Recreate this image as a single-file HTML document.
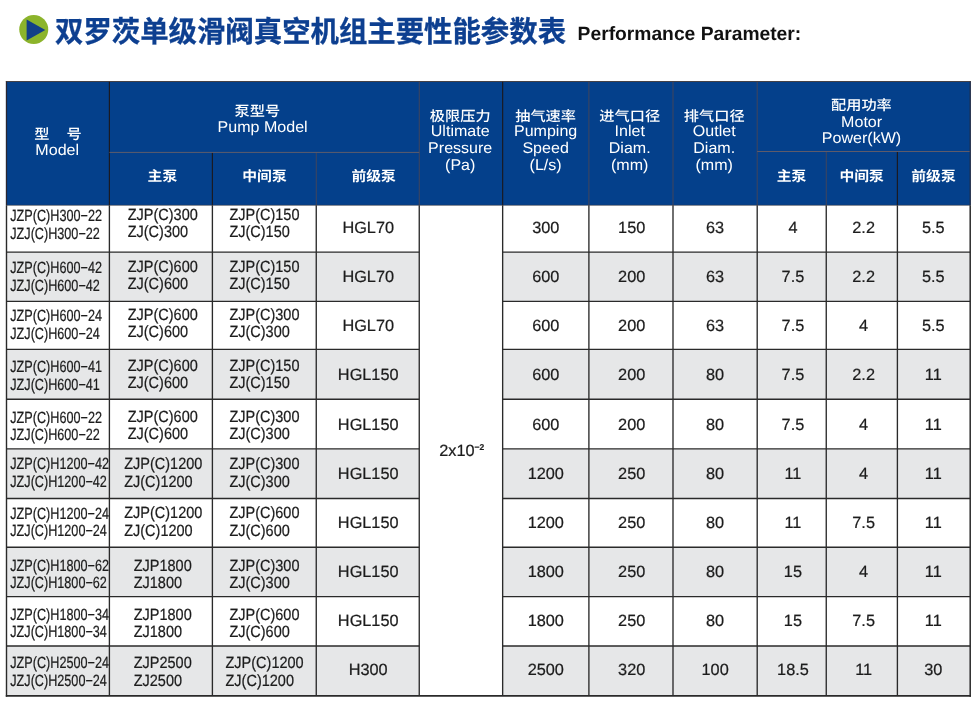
<!DOCTYPE html>
<html lang="zh-CN">
<head>
<meta charset="utf-8">
<title>双罗茨单级滑阀真空机组主要性能参数表</title>
<style>
html,body{margin:0;padding:0;background:#fff;}
body{width:976px;height:701px;overflow:hidden;position:relative;}
svg{position:absolute;left:0;top:0;display:block;}
svg text{font-family:"Liberation Sans", "Noto Sans CJK SC", sans-serif;text-rendering:geometricPrecision;}
</style>
</head>
<body>
<svg width="976" height="701" viewBox="0 0 976 701">
<circle cx="33.75" cy="29.6" r="14.5" fill="#8cb42b"/>
<path d="M26.6 19.6 L45.3 30 L26.6 40.4 Z" fill="#133f88"/>
<text transform="translate(55.00 41.50) scale(1.0 1.04)" font-size="28.4" font-weight="700" fill="#0d3f90" text-anchor="start" stroke="#0d3f90" stroke-width="0.3">双罗茨单级滑阀真空机组主要性能参数表</text>
<text transform="translate(577.60 40.10)" font-size="19.25" font-weight="700" fill="#111" text-anchor="start">Performance Parameter:</text>
<rect x="5.9" y="81.2" width="964.9" height="124.1" fill="#04408b"/>
<rect x="6.5" y="252.1" width="412.75" height="49.30" fill="#e6e7e8"/>
<rect x="502.65" y="252.1" width="467.55" height="49.30" fill="#e6e7e8"/>
<rect x="6.5" y="349.3" width="412.75" height="49.90" fill="#e6e7e8"/>
<rect x="502.65" y="349.3" width="467.55" height="49.90" fill="#e6e7e8"/>
<rect x="6.5" y="448.8" width="412.75" height="49.70" fill="#e6e7e8"/>
<rect x="502.65" y="448.8" width="467.55" height="49.70" fill="#e6e7e8"/>
<rect x="6.5" y="547.2" width="412.75" height="49.40" fill="#e6e7e8"/>
<rect x="502.65" y="547.2" width="467.55" height="49.40" fill="#e6e7e8"/>
<rect x="6.5" y="646" width="412.75" height="49.90" fill="#e6e7e8"/>
<rect x="502.65" y="646" width="467.55" height="49.90" fill="#e6e7e8"/>
<line x1="109.4" y1="81.5" x2="109.4" y2="205.3" stroke="#1a1a22" stroke-width="1.2"/>
<line x1="109.4" y1="205.3" x2="109.4" y2="695.9" stroke="#2a2a2a" stroke-width="1.35"/>
<line x1="212.4" y1="152.4" x2="212.4" y2="205.3" stroke="#1a1a22" stroke-width="1.2"/>
<line x1="212.4" y1="205.3" x2="212.4" y2="695.9" stroke="#2a2a2a" stroke-width="1.35"/>
<line x1="316.25" y1="152.4" x2="316.25" y2="205.3" stroke="#4a4656" stroke-width="0.9"/>
<line x1="316.25" y1="205.3" x2="316.25" y2="695.9" stroke="#2a2a2a" stroke-width="1.35"/>
<line x1="419.25" y1="81.5" x2="419.25" y2="205.3" stroke="#4a4656" stroke-width="0.9"/>
<line x1="419.25" y1="205.3" x2="419.25" y2="695.9" stroke="#2a2a2a" stroke-width="1.35"/>
<line x1="502.65" y1="81.5" x2="502.65" y2="205.3" stroke="#1a1a22" stroke-width="1.2"/>
<line x1="502.65" y1="205.3" x2="502.65" y2="695.9" stroke="#2a2a2a" stroke-width="1.35"/>
<line x1="588.9" y1="81.5" x2="588.9" y2="205.3" stroke="#4a4656" stroke-width="0.9"/>
<line x1="588.9" y1="205.3" x2="588.9" y2="695.9" stroke="#2a2a2a" stroke-width="1.35"/>
<line x1="673.0" y1="81.5" x2="673.0" y2="205.3" stroke="#4a4656" stroke-width="0.9"/>
<line x1="673.0" y1="205.3" x2="673.0" y2="695.9" stroke="#2a2a2a" stroke-width="1.35"/>
<line x1="757.2" y1="81.5" x2="757.2" y2="205.3" stroke="#4a4656" stroke-width="0.9"/>
<line x1="757.2" y1="205.3" x2="757.2" y2="695.9" stroke="#2a2a2a" stroke-width="1.35"/>
<line x1="826.25" y1="151.5" x2="826.25" y2="205.3" stroke="#4a4656" stroke-width="0.9"/>
<line x1="826.25" y1="205.3" x2="826.25" y2="695.9" stroke="#2a2a2a" stroke-width="1.35"/>
<line x1="897.4" y1="151.5" x2="897.4" y2="205.3" stroke="#1a1a22" stroke-width="1.2"/>
<line x1="897.4" y1="205.3" x2="897.4" y2="695.9" stroke="#2a2a2a" stroke-width="1.35"/>
<line x1="109.4" y1="152.4" x2="419.25" y2="152.4" stroke="#6a5f66" stroke-width="0.9"/>
<line x1="757.2" y1="151.5" x2="970.2" y2="151.5" stroke="#6a5f66" stroke-width="0.9"/>
<line x1="6.5" y1="205.3" x2="970.2" y2="205.3" stroke="#4a3a30" stroke-width="0.5"/>
<line x1="6.5" y1="252.1" x2="419.25" y2="252.1" stroke="#2a2a2a" stroke-width="1.35"/>
<line x1="502.65" y1="252.1" x2="970.2" y2="252.1" stroke="#2a2a2a" stroke-width="1.35"/>
<line x1="6.5" y1="301.4" x2="419.25" y2="301.4" stroke="#2a2a2a" stroke-width="1.35"/>
<line x1="502.65" y1="301.4" x2="970.2" y2="301.4" stroke="#2a2a2a" stroke-width="1.35"/>
<line x1="6.5" y1="349.3" x2="419.25" y2="349.3" stroke="#2a2a2a" stroke-width="1.35"/>
<line x1="502.65" y1="349.3" x2="970.2" y2="349.3" stroke="#2a2a2a" stroke-width="1.35"/>
<line x1="6.5" y1="399.2" x2="419.25" y2="399.2" stroke="#2a2a2a" stroke-width="1.35"/>
<line x1="502.65" y1="399.2" x2="970.2" y2="399.2" stroke="#2a2a2a" stroke-width="1.35"/>
<line x1="6.5" y1="448.8" x2="419.25" y2="448.8" stroke="#2a2a2a" stroke-width="1.35"/>
<line x1="502.65" y1="448.8" x2="970.2" y2="448.8" stroke="#2a2a2a" stroke-width="1.35"/>
<line x1="6.5" y1="498.5" x2="419.25" y2="498.5" stroke="#2a2a2a" stroke-width="1.35"/>
<line x1="502.65" y1="498.5" x2="970.2" y2="498.5" stroke="#2a2a2a" stroke-width="1.35"/>
<line x1="6.5" y1="547.2" x2="419.25" y2="547.2" stroke="#2a2a2a" stroke-width="1.35"/>
<line x1="502.65" y1="547.2" x2="970.2" y2="547.2" stroke="#2a2a2a" stroke-width="1.35"/>
<line x1="6.5" y1="596.6" x2="419.25" y2="596.6" stroke="#2a2a2a" stroke-width="1.35"/>
<line x1="502.65" y1="596.6" x2="970.2" y2="596.6" stroke="#2a2a2a" stroke-width="1.35"/>
<line x1="6.5" y1="646" x2="419.25" y2="646" stroke="#2a2a2a" stroke-width="1.35"/>
<line x1="502.65" y1="646" x2="970.2" y2="646" stroke="#2a2a2a" stroke-width="1.35"/>
<line x1="5.8" y1="81.5" x2="970.9000000000001" y2="81.5" stroke="#4a3a30" stroke-width="0.8"/>
<line x1="6.5" y1="81.5" x2="6.5" y2="205.3" stroke="#2b2730" stroke-width="1.2"/>
<line x1="970.2" y1="81.5" x2="970.2" y2="205.3" stroke="#2b2730" stroke-width="1.0"/>
<line x1="6.5" y1="205.3" x2="6.5" y2="696.6999999999999" stroke="#2a2a2a" stroke-width="1.4"/>
<line x1="970.2" y1="205.3" x2="970.2" y2="696.6999999999999" stroke="#2a2a2a" stroke-width="1.5"/>
<line x1="5.8" y1="695.9" x2="970.95" y2="695.9" stroke="#2a2a2a" stroke-width="1.6"/>
<text transform="translate(58.40 139.00) scale(1.0 0.92)" font-size="15.2" font-weight="500" fill="#ffffff" text-anchor="middle" letter-spacing="0.9">型　号</text>
<text transform="translate(57.20 154.90) scale(1.035 1.0)" font-size="15.5" font-weight="400" fill="#ffffff" text-anchor="middle">Model</text>
<text transform="translate(257.40 116.30) scale(1.0 0.92)" font-size="15.2" font-weight="500" fill="#ffffff" text-anchor="middle">泵型号</text>
<text transform="translate(262.60 132.00) scale(1.035 1.0)" font-size="15.5" font-weight="400" fill="#ffffff" text-anchor="middle">Pump Model</text>
<text transform="translate(460.20 120.80) scale(1.0 0.92)" font-size="15.2" font-weight="500" fill="#ffffff" text-anchor="middle">极限压力</text>
<text transform="translate(460.20 136.30) scale(1.035 1.0)" font-size="15.5" font-weight="400" fill="#ffffff" text-anchor="middle">Ultimate</text>
<text transform="translate(460.20 152.90) scale(1.035 1.0)" font-size="15.5" font-weight="400" fill="#ffffff" text-anchor="middle">Pressure</text>
<text transform="translate(460.20 169.50) scale(1.035 1.0)" font-size="15.5" font-weight="400" fill="#ffffff" text-anchor="middle">(Pa)</text>
<text transform="translate(545.60 120.80) scale(1.0 0.92)" font-size="15.2" font-weight="500" fill="#ffffff" text-anchor="middle">抽气速率</text>
<text transform="translate(545.60 136.30) scale(1.035 1.0)" font-size="15.5" font-weight="400" fill="#ffffff" text-anchor="middle">Pumping</text>
<text transform="translate(545.60 152.90) scale(1.035 1.0)" font-size="15.5" font-weight="400" fill="#ffffff" text-anchor="middle">Speed</text>
<text transform="translate(545.60 169.50) scale(1.035 1.0)" font-size="15.5" font-weight="400" fill="#ffffff" text-anchor="middle">(L/s)</text>
<text transform="translate(629.70 120.80) scale(1.0 0.92)" font-size="15.2" font-weight="500" fill="#ffffff" text-anchor="middle">进气口径</text>
<text transform="translate(629.70 136.30) scale(1.035 1.0)" font-size="15.5" font-weight="400" fill="#ffffff" text-anchor="middle">Inlet</text>
<text transform="translate(629.70 152.90) scale(1.035 1.0)" font-size="15.5" font-weight="400" fill="#ffffff" text-anchor="middle">Diam.</text>
<text transform="translate(629.70 169.50) scale(1.035 1.0)" font-size="15.5" font-weight="400" fill="#ffffff" text-anchor="middle">(mm)</text>
<text transform="translate(714.20 120.80) scale(1.0 0.92)" font-size="15.2" font-weight="500" fill="#ffffff" text-anchor="middle">排气口径</text>
<text transform="translate(714.20 136.30) scale(1.035 1.0)" font-size="15.5" font-weight="400" fill="#ffffff" text-anchor="middle">Outlet</text>
<text transform="translate(714.20 152.90) scale(1.035 1.0)" font-size="15.5" font-weight="400" fill="#ffffff" text-anchor="middle">Diam.</text>
<text transform="translate(714.20 169.50) scale(1.035 1.0)" font-size="15.5" font-weight="400" fill="#ffffff" text-anchor="middle">(mm)</text>
<text transform="translate(861.40 109.50) scale(1.0 0.92)" font-size="15.2" font-weight="500" fill="#ffffff" text-anchor="middle">配用功率</text>
<text transform="translate(861.60 126.50) scale(1.035 1.0)" font-size="15.5" font-weight="400" fill="#ffffff" text-anchor="middle">Motor</text>
<text transform="translate(861.50 142.50) scale(1.035 1.0)" font-size="15.5" font-weight="400" fill="#ffffff" text-anchor="middle">Power(kW)</text>
<text transform="translate(162.40 180.90) scale(1.0 0.95)" font-size="14.8" font-weight="700" fill="#ffffff" text-anchor="middle">主泵</text>
<text transform="translate(264.50 180.90) scale(1.0 0.95)" font-size="14.8" font-weight="700" fill="#ffffff" text-anchor="middle">中间泵</text>
<text transform="translate(373.60 180.90) scale(1.0 0.95)" font-size="14.8" font-weight="700" fill="#ffffff" text-anchor="middle">前级泵</text>
<text transform="translate(791.60 180.90) scale(1.0 0.95)" font-size="14.8" font-weight="700" fill="#ffffff" text-anchor="middle">主泵</text>
<text transform="translate(861.60 180.90) scale(1.0 0.95)" font-size="14.8" font-weight="700" fill="#ffffff" text-anchor="middle">中间泵</text>
<text transform="translate(933.50 180.90) scale(1.0 0.95)" font-size="14.8" font-weight="700" fill="#ffffff" text-anchor="middle">前级泵</text>
<text transform="translate(10.30 221.10) scale(0.776 1.0)" font-size="16.3" font-weight="400" fill="#1c1c1c" text-anchor="start" stroke="#1c1c1c" stroke-width="0.22">JZP(C)H300−22</text>
<text transform="translate(10.30 239.00) scale(0.776 1.0)" font-size="16.3" font-weight="400" fill="#1c1c1c" text-anchor="start" stroke="#1c1c1c" stroke-width="0.22">JZJ(C)H300−22</text>
<text transform="translate(127.70 219.70) scale(0.89 1.0)" font-size="16.3" font-weight="400" fill="#1c1c1c" text-anchor="start" stroke="#1c1c1c" stroke-width="0.22">ZJP(C)300</text>
<text transform="translate(127.70 237.10) scale(0.89 1.0)" font-size="16.3" font-weight="400" fill="#1c1c1c" text-anchor="start" stroke="#1c1c1c" stroke-width="0.22">ZJ(C)300</text>
<text transform="translate(229.40 219.70) scale(0.89 1.0)" font-size="16.3" font-weight="400" fill="#1c1c1c" text-anchor="start" stroke="#1c1c1c" stroke-width="0.22">ZJP(C)150</text>
<text transform="translate(229.40 237.10) scale(0.89 1.0)" font-size="16.3" font-weight="400" fill="#1c1c1c" text-anchor="start" stroke="#1c1c1c" stroke-width="0.22">ZJ(C)150</text>
<text transform="translate(368.20 232.90)" font-size="16.3" font-weight="400" fill="#1c1c1c" text-anchor="middle" stroke="#1c1c1c" stroke-width="0.22">HGL70</text>
<text transform="translate(545.77 232.90)" font-size="16.3" font-weight="400" fill="#1c1c1c" text-anchor="middle" stroke="#1c1c1c" stroke-width="0.22">300</text>
<text transform="translate(631.65 232.90)" font-size="16.3" font-weight="400" fill="#1c1c1c" text-anchor="middle" stroke="#1c1c1c" stroke-width="0.22">150</text>
<text transform="translate(715.10 232.90)" font-size="16.3" font-weight="400" fill="#1c1c1c" text-anchor="middle" stroke="#1c1c1c" stroke-width="0.22">63</text>
<text transform="translate(792.93 232.90)" font-size="16.3" font-weight="400" fill="#1c1c1c" text-anchor="middle" stroke="#1c1c1c" stroke-width="0.22">4</text>
<text transform="translate(863.62 232.90)" font-size="16.3" font-weight="400" fill="#1c1c1c" text-anchor="middle" stroke="#1c1c1c" stroke-width="0.22">2.2</text>
<text transform="translate(933.30 232.90)" font-size="16.3" font-weight="400" fill="#1c1c1c" text-anchor="middle" stroke="#1c1c1c" stroke-width="0.22">5.5</text>
<text transform="translate(10.30 273.20) scale(0.776 1.0)" font-size="16.3" font-weight="400" fill="#1c1c1c" text-anchor="start" stroke="#1c1c1c" stroke-width="0.22">JZP(C)H600−42</text>
<text transform="translate(10.30 291.00) scale(0.776 1.0)" font-size="16.3" font-weight="400" fill="#1c1c1c" text-anchor="start" stroke="#1c1c1c" stroke-width="0.22">JZJ(C)H600−42</text>
<text transform="translate(127.70 271.80) scale(0.89 1.0)" font-size="16.3" font-weight="400" fill="#1c1c1c" text-anchor="start" stroke="#1c1c1c" stroke-width="0.22">ZJP(C)600</text>
<text transform="translate(127.70 289.30) scale(0.89 1.0)" font-size="16.3" font-weight="400" fill="#1c1c1c" text-anchor="start" stroke="#1c1c1c" stroke-width="0.22">ZJ(C)600</text>
<text transform="translate(229.40 271.80) scale(0.89 1.0)" font-size="16.3" font-weight="400" fill="#1c1c1c" text-anchor="start" stroke="#1c1c1c" stroke-width="0.22">ZJP(C)150</text>
<text transform="translate(229.40 289.30) scale(0.89 1.0)" font-size="16.3" font-weight="400" fill="#1c1c1c" text-anchor="start" stroke="#1c1c1c" stroke-width="0.22">ZJ(C)150</text>
<text transform="translate(368.20 282.06)" font-size="16.3" font-weight="400" fill="#1c1c1c" text-anchor="middle" stroke="#1c1c1c" stroke-width="0.22">HGL70</text>
<text transform="translate(545.77 282.06)" font-size="16.3" font-weight="400" fill="#1c1c1c" text-anchor="middle" stroke="#1c1c1c" stroke-width="0.22">600</text>
<text transform="translate(631.65 282.06)" font-size="16.3" font-weight="400" fill="#1c1c1c" text-anchor="middle" stroke="#1c1c1c" stroke-width="0.22">200</text>
<text transform="translate(715.10 282.06)" font-size="16.3" font-weight="400" fill="#1c1c1c" text-anchor="middle" stroke="#1c1c1c" stroke-width="0.22">63</text>
<text transform="translate(792.93 282.06)" font-size="16.3" font-weight="400" fill="#1c1c1c" text-anchor="middle" stroke="#1c1c1c" stroke-width="0.22">7.5</text>
<text transform="translate(863.62 282.06)" font-size="16.3" font-weight="400" fill="#1c1c1c" text-anchor="middle" stroke="#1c1c1c" stroke-width="0.22">2.2</text>
<text transform="translate(933.30 282.06)" font-size="16.3" font-weight="400" fill="#1c1c1c" text-anchor="middle" stroke="#1c1c1c" stroke-width="0.22">5.5</text>
<text transform="translate(10.30 320.70) scale(0.776 1.0)" font-size="16.3" font-weight="400" fill="#1c1c1c" text-anchor="start" stroke="#1c1c1c" stroke-width="0.22">JZP(C)H600−24</text>
<text transform="translate(10.30 338.50) scale(0.776 1.0)" font-size="16.3" font-weight="400" fill="#1c1c1c" text-anchor="start" stroke="#1c1c1c" stroke-width="0.22">JZJ(C)H600−24</text>
<text transform="translate(127.70 319.70) scale(0.89 1.0)" font-size="16.3" font-weight="400" fill="#1c1c1c" text-anchor="start" stroke="#1c1c1c" stroke-width="0.22">ZJP(C)600</text>
<text transform="translate(127.70 337.40) scale(0.89 1.0)" font-size="16.3" font-weight="400" fill="#1c1c1c" text-anchor="start" stroke="#1c1c1c" stroke-width="0.22">ZJ(C)600</text>
<text transform="translate(229.40 319.70) scale(0.89 1.0)" font-size="16.3" font-weight="400" fill="#1c1c1c" text-anchor="start" stroke="#1c1c1c" stroke-width="0.22">ZJP(C)300</text>
<text transform="translate(229.40 337.40) scale(0.89 1.0)" font-size="16.3" font-weight="400" fill="#1c1c1c" text-anchor="start" stroke="#1c1c1c" stroke-width="0.22">ZJ(C)300</text>
<text transform="translate(368.20 331.22)" font-size="16.3" font-weight="400" fill="#1c1c1c" text-anchor="middle" stroke="#1c1c1c" stroke-width="0.22">HGL70</text>
<text transform="translate(545.77 331.22)" font-size="16.3" font-weight="400" fill="#1c1c1c" text-anchor="middle" stroke="#1c1c1c" stroke-width="0.22">600</text>
<text transform="translate(631.65 331.22)" font-size="16.3" font-weight="400" fill="#1c1c1c" text-anchor="middle" stroke="#1c1c1c" stroke-width="0.22">200</text>
<text transform="translate(715.10 331.22)" font-size="16.3" font-weight="400" fill="#1c1c1c" text-anchor="middle" stroke="#1c1c1c" stroke-width="0.22">63</text>
<text transform="translate(792.93 331.22)" font-size="16.3" font-weight="400" fill="#1c1c1c" text-anchor="middle" stroke="#1c1c1c" stroke-width="0.22">7.5</text>
<text transform="translate(863.62 331.22)" font-size="16.3" font-weight="400" fill="#1c1c1c" text-anchor="middle" stroke="#1c1c1c" stroke-width="0.22">4</text>
<text transform="translate(933.30 331.22)" font-size="16.3" font-weight="400" fill="#1c1c1c" text-anchor="middle" stroke="#1c1c1c" stroke-width="0.22">5.5</text>
<text transform="translate(10.30 371.80) scale(0.776 1.0)" font-size="16.3" font-weight="400" fill="#1c1c1c" text-anchor="start" stroke="#1c1c1c" stroke-width="0.22">JZP(C)H600−41</text>
<text transform="translate(10.30 389.60) scale(0.776 1.0)" font-size="16.3" font-weight="400" fill="#1c1c1c" text-anchor="start" stroke="#1c1c1c" stroke-width="0.22">JZJ(C)H600−41</text>
<text transform="translate(127.70 370.90) scale(0.89 1.0)" font-size="16.3" font-weight="400" fill="#1c1c1c" text-anchor="start" stroke="#1c1c1c" stroke-width="0.22">ZJP(C)600</text>
<text transform="translate(127.70 388.40) scale(0.89 1.0)" font-size="16.3" font-weight="400" fill="#1c1c1c" text-anchor="start" stroke="#1c1c1c" stroke-width="0.22">ZJ(C)600</text>
<text transform="translate(229.40 370.90) scale(0.89 1.0)" font-size="16.3" font-weight="400" fill="#1c1c1c" text-anchor="start" stroke="#1c1c1c" stroke-width="0.22">ZJP(C)150</text>
<text transform="translate(229.40 388.40) scale(0.89 1.0)" font-size="16.3" font-weight="400" fill="#1c1c1c" text-anchor="start" stroke="#1c1c1c" stroke-width="0.22">ZJ(C)150</text>
<text transform="translate(368.20 380.38)" font-size="16.3" font-weight="400" fill="#1c1c1c" text-anchor="middle" stroke="#1c1c1c" stroke-width="0.22">HGL150</text>
<text transform="translate(545.77 380.38)" font-size="16.3" font-weight="400" fill="#1c1c1c" text-anchor="middle" stroke="#1c1c1c" stroke-width="0.22">600</text>
<text transform="translate(631.65 380.38)" font-size="16.3" font-weight="400" fill="#1c1c1c" text-anchor="middle" stroke="#1c1c1c" stroke-width="0.22">200</text>
<text transform="translate(715.10 380.38)" font-size="16.3" font-weight="400" fill="#1c1c1c" text-anchor="middle" stroke="#1c1c1c" stroke-width="0.22">80</text>
<text transform="translate(792.93 380.38)" font-size="16.3" font-weight="400" fill="#1c1c1c" text-anchor="middle" stroke="#1c1c1c" stroke-width="0.22">7.5</text>
<text transform="translate(863.62 380.38)" font-size="16.3" font-weight="400" fill="#1c1c1c" text-anchor="middle" stroke="#1c1c1c" stroke-width="0.22">2.2</text>
<text transform="translate(933.30 380.38)" font-size="16.3" font-weight="400" fill="#1c1c1c" text-anchor="middle" stroke="#1c1c1c" stroke-width="0.22">11</text>
<text transform="translate(10.30 422.50) scale(0.776 1.0)" font-size="16.3" font-weight="400" fill="#1c1c1c" text-anchor="start" stroke="#1c1c1c" stroke-width="0.22">JZP(C)H600−22</text>
<text transform="translate(10.30 440.40) scale(0.776 1.0)" font-size="16.3" font-weight="400" fill="#1c1c1c" text-anchor="start" stroke="#1c1c1c" stroke-width="0.22">JZJ(C)H600−22</text>
<text transform="translate(127.70 421.80) scale(0.89 1.0)" font-size="16.3" font-weight="400" fill="#1c1c1c" text-anchor="start" stroke="#1c1c1c" stroke-width="0.22">ZJP(C)600</text>
<text transform="translate(127.70 439.40) scale(0.89 1.0)" font-size="16.3" font-weight="400" fill="#1c1c1c" text-anchor="start" stroke="#1c1c1c" stroke-width="0.22">ZJ(C)600</text>
<text transform="translate(229.40 421.80) scale(0.89 1.0)" font-size="16.3" font-weight="400" fill="#1c1c1c" text-anchor="start" stroke="#1c1c1c" stroke-width="0.22">ZJP(C)300</text>
<text transform="translate(229.40 439.40) scale(0.89 1.0)" font-size="16.3" font-weight="400" fill="#1c1c1c" text-anchor="start" stroke="#1c1c1c" stroke-width="0.22">ZJ(C)300</text>
<text transform="translate(368.20 429.54)" font-size="16.3" font-weight="400" fill="#1c1c1c" text-anchor="middle" stroke="#1c1c1c" stroke-width="0.22">HGL150</text>
<text transform="translate(545.77 429.54)" font-size="16.3" font-weight="400" fill="#1c1c1c" text-anchor="middle" stroke="#1c1c1c" stroke-width="0.22">600</text>
<text transform="translate(631.65 429.54)" font-size="16.3" font-weight="400" fill="#1c1c1c" text-anchor="middle" stroke="#1c1c1c" stroke-width="0.22">200</text>
<text transform="translate(715.10 429.54)" font-size="16.3" font-weight="400" fill="#1c1c1c" text-anchor="middle" stroke="#1c1c1c" stroke-width="0.22">80</text>
<text transform="translate(792.93 429.54)" font-size="16.3" font-weight="400" fill="#1c1c1c" text-anchor="middle" stroke="#1c1c1c" stroke-width="0.22">7.5</text>
<text transform="translate(863.62 429.54)" font-size="16.3" font-weight="400" fill="#1c1c1c" text-anchor="middle" stroke="#1c1c1c" stroke-width="0.22">4</text>
<text transform="translate(933.30 429.54)" font-size="16.3" font-weight="400" fill="#1c1c1c" text-anchor="middle" stroke="#1c1c1c" stroke-width="0.22">11</text>
<text transform="translate(10.30 469.30) scale(0.776 1.0)" font-size="16.3" font-weight="400" fill="#1c1c1c" text-anchor="start" stroke="#1c1c1c" stroke-width="0.22">JZP(C)H1200−42</text>
<text transform="translate(10.30 487.20) scale(0.776 1.0)" font-size="16.3" font-weight="400" fill="#1c1c1c" text-anchor="start" stroke="#1c1c1c" stroke-width="0.22">JZJ(C)H1200−42</text>
<text transform="translate(124.20 469.30) scale(0.89 1.0)" font-size="16.3" font-weight="400" fill="#1c1c1c" text-anchor="start" stroke="#1c1c1c" stroke-width="0.22">ZJP(C)1200</text>
<text transform="translate(124.20 486.70) scale(0.89 1.0)" font-size="16.3" font-weight="400" fill="#1c1c1c" text-anchor="start" stroke="#1c1c1c" stroke-width="0.22">ZJ(C)1200</text>
<text transform="translate(229.40 469.30) scale(0.89 1.0)" font-size="16.3" font-weight="400" fill="#1c1c1c" text-anchor="start" stroke="#1c1c1c" stroke-width="0.22">ZJP(C)300</text>
<text transform="translate(229.40 486.70) scale(0.89 1.0)" font-size="16.3" font-weight="400" fill="#1c1c1c" text-anchor="start" stroke="#1c1c1c" stroke-width="0.22">ZJ(C)300</text>
<text transform="translate(368.20 478.70)" font-size="16.3" font-weight="400" fill="#1c1c1c" text-anchor="middle" stroke="#1c1c1c" stroke-width="0.22">HGL150</text>
<text transform="translate(545.77 478.70)" font-size="16.3" font-weight="400" fill="#1c1c1c" text-anchor="middle" stroke="#1c1c1c" stroke-width="0.22">1200</text>
<text transform="translate(631.65 478.70)" font-size="16.3" font-weight="400" fill="#1c1c1c" text-anchor="middle" stroke="#1c1c1c" stroke-width="0.22">250</text>
<text transform="translate(715.10 478.70)" font-size="16.3" font-weight="400" fill="#1c1c1c" text-anchor="middle" stroke="#1c1c1c" stroke-width="0.22">80</text>
<text transform="translate(792.93 478.70)" font-size="16.3" font-weight="400" fill="#1c1c1c" text-anchor="middle" stroke="#1c1c1c" stroke-width="0.22">11</text>
<text transform="translate(863.62 478.70)" font-size="16.3" font-weight="400" fill="#1c1c1c" text-anchor="middle" stroke="#1c1c1c" stroke-width="0.22">4</text>
<text transform="translate(933.30 478.70)" font-size="16.3" font-weight="400" fill="#1c1c1c" text-anchor="middle" stroke="#1c1c1c" stroke-width="0.22">11</text>
<text transform="translate(10.30 518.80) scale(0.776 1.0)" font-size="16.3" font-weight="400" fill="#1c1c1c" text-anchor="start" stroke="#1c1c1c" stroke-width="0.22">JZP(C)H1200−24</text>
<text transform="translate(10.30 536.20) scale(0.776 1.0)" font-size="16.3" font-weight="400" fill="#1c1c1c" text-anchor="start" stroke="#1c1c1c" stroke-width="0.22">JZJ(C)H1200−24</text>
<text transform="translate(124.20 518.10) scale(0.89 1.0)" font-size="16.3" font-weight="400" fill="#1c1c1c" text-anchor="start" stroke="#1c1c1c" stroke-width="0.22">ZJP(C)1200</text>
<text transform="translate(124.20 535.70) scale(0.89 1.0)" font-size="16.3" font-weight="400" fill="#1c1c1c" text-anchor="start" stroke="#1c1c1c" stroke-width="0.22">ZJ(C)1200</text>
<text transform="translate(229.40 518.10) scale(0.89 1.0)" font-size="16.3" font-weight="400" fill="#1c1c1c" text-anchor="start" stroke="#1c1c1c" stroke-width="0.22">ZJP(C)600</text>
<text transform="translate(229.40 535.70) scale(0.89 1.0)" font-size="16.3" font-weight="400" fill="#1c1c1c" text-anchor="start" stroke="#1c1c1c" stroke-width="0.22">ZJ(C)600</text>
<text transform="translate(368.20 527.86)" font-size="16.3" font-weight="400" fill="#1c1c1c" text-anchor="middle" stroke="#1c1c1c" stroke-width="0.22">HGL150</text>
<text transform="translate(545.77 527.86)" font-size="16.3" font-weight="400" fill="#1c1c1c" text-anchor="middle" stroke="#1c1c1c" stroke-width="0.22">1200</text>
<text transform="translate(631.65 527.86)" font-size="16.3" font-weight="400" fill="#1c1c1c" text-anchor="middle" stroke="#1c1c1c" stroke-width="0.22">250</text>
<text transform="translate(715.10 527.86)" font-size="16.3" font-weight="400" fill="#1c1c1c" text-anchor="middle" stroke="#1c1c1c" stroke-width="0.22">80</text>
<text transform="translate(792.93 527.86)" font-size="16.3" font-weight="400" fill="#1c1c1c" text-anchor="middle" stroke="#1c1c1c" stroke-width="0.22">11</text>
<text transform="translate(863.62 527.86)" font-size="16.3" font-weight="400" fill="#1c1c1c" text-anchor="middle" stroke="#1c1c1c" stroke-width="0.22">7.5</text>
<text transform="translate(933.30 527.86)" font-size="16.3" font-weight="400" fill="#1c1c1c" text-anchor="middle" stroke="#1c1c1c" stroke-width="0.22">11</text>
<text transform="translate(10.30 570.90) scale(0.776 1.0)" font-size="16.3" font-weight="400" fill="#1c1c1c" text-anchor="start" stroke="#1c1c1c" stroke-width="0.22">JZP(C)H1800−62</text>
<text transform="translate(10.30 588.40) scale(0.776 1.0)" font-size="16.3" font-weight="400" fill="#1c1c1c" text-anchor="start" stroke="#1c1c1c" stroke-width="0.22">JZJ(C)H1800−62</text>
<text transform="translate(133.70 570.50) scale(0.89 1.0)" font-size="16.3" font-weight="400" fill="#1c1c1c" text-anchor="start" stroke="#1c1c1c" stroke-width="0.22">ZJP1800</text>
<text transform="translate(133.70 587.70) scale(0.89 1.0)" font-size="16.3" font-weight="400" fill="#1c1c1c" text-anchor="start" stroke="#1c1c1c" stroke-width="0.22">ZJ1800</text>
<text transform="translate(229.40 570.50) scale(0.89 1.0)" font-size="16.3" font-weight="400" fill="#1c1c1c" text-anchor="start" stroke="#1c1c1c" stroke-width="0.22">ZJP(C)300</text>
<text transform="translate(229.40 587.70) scale(0.89 1.0)" font-size="16.3" font-weight="400" fill="#1c1c1c" text-anchor="start" stroke="#1c1c1c" stroke-width="0.22">ZJ(C)300</text>
<text transform="translate(368.20 577.02)" font-size="16.3" font-weight="400" fill="#1c1c1c" text-anchor="middle" stroke="#1c1c1c" stroke-width="0.22">HGL150</text>
<text transform="translate(545.77 577.02)" font-size="16.3" font-weight="400" fill="#1c1c1c" text-anchor="middle" stroke="#1c1c1c" stroke-width="0.22">1800</text>
<text transform="translate(631.65 577.02)" font-size="16.3" font-weight="400" fill="#1c1c1c" text-anchor="middle" stroke="#1c1c1c" stroke-width="0.22">250</text>
<text transform="translate(715.10 577.02)" font-size="16.3" font-weight="400" fill="#1c1c1c" text-anchor="middle" stroke="#1c1c1c" stroke-width="0.22">80</text>
<text transform="translate(792.93 577.02)" font-size="16.3" font-weight="400" fill="#1c1c1c" text-anchor="middle" stroke="#1c1c1c" stroke-width="0.22">15</text>
<text transform="translate(863.62 577.02)" font-size="16.3" font-weight="400" fill="#1c1c1c" text-anchor="middle" stroke="#1c1c1c" stroke-width="0.22">4</text>
<text transform="translate(933.30 577.02)" font-size="16.3" font-weight="400" fill="#1c1c1c" text-anchor="middle" stroke="#1c1c1c" stroke-width="0.22">11</text>
<text transform="translate(10.30 619.80) scale(0.776 1.0)" font-size="16.3" font-weight="400" fill="#1c1c1c" text-anchor="start" stroke="#1c1c1c" stroke-width="0.22">JZP(C)H1800−34</text>
<text transform="translate(10.30 637.40) scale(0.776 1.0)" font-size="16.3" font-weight="400" fill="#1c1c1c" text-anchor="start" stroke="#1c1c1c" stroke-width="0.22">JZJ(C)H1800−34</text>
<text transform="translate(133.70 619.50) scale(0.89 1.0)" font-size="16.3" font-weight="400" fill="#1c1c1c" text-anchor="start" stroke="#1c1c1c" stroke-width="0.22">ZJP1800</text>
<text transform="translate(133.70 637.40) scale(0.89 1.0)" font-size="16.3" font-weight="400" fill="#1c1c1c" text-anchor="start" stroke="#1c1c1c" stroke-width="0.22">ZJ1800</text>
<text transform="translate(229.40 619.50) scale(0.89 1.0)" font-size="16.3" font-weight="400" fill="#1c1c1c" text-anchor="start" stroke="#1c1c1c" stroke-width="0.22">ZJP(C)600</text>
<text transform="translate(229.40 637.40) scale(0.89 1.0)" font-size="16.3" font-weight="400" fill="#1c1c1c" text-anchor="start" stroke="#1c1c1c" stroke-width="0.22">ZJ(C)600</text>
<text transform="translate(368.20 626.18)" font-size="16.3" font-weight="400" fill="#1c1c1c" text-anchor="middle" stroke="#1c1c1c" stroke-width="0.22">HGL150</text>
<text transform="translate(545.77 626.18)" font-size="16.3" font-weight="400" fill="#1c1c1c" text-anchor="middle" stroke="#1c1c1c" stroke-width="0.22">1800</text>
<text transform="translate(631.65 626.18)" font-size="16.3" font-weight="400" fill="#1c1c1c" text-anchor="middle" stroke="#1c1c1c" stroke-width="0.22">250</text>
<text transform="translate(715.10 626.18)" font-size="16.3" font-weight="400" fill="#1c1c1c" text-anchor="middle" stroke="#1c1c1c" stroke-width="0.22">80</text>
<text transform="translate(792.93 626.18)" font-size="16.3" font-weight="400" fill="#1c1c1c" text-anchor="middle" stroke="#1c1c1c" stroke-width="0.22">15</text>
<text transform="translate(863.62 626.18)" font-size="16.3" font-weight="400" fill="#1c1c1c" text-anchor="middle" stroke="#1c1c1c" stroke-width="0.22">7.5</text>
<text transform="translate(933.30 626.18)" font-size="16.3" font-weight="400" fill="#1c1c1c" text-anchor="middle" stroke="#1c1c1c" stroke-width="0.22">11</text>
<text transform="translate(10.30 668.00) scale(0.776 1.0)" font-size="16.3" font-weight="400" fill="#1c1c1c" text-anchor="start" stroke="#1c1c1c" stroke-width="0.22">JZP(C)H2500−24</text>
<text transform="translate(10.30 686.20) scale(0.776 1.0)" font-size="16.3" font-weight="400" fill="#1c1c1c" text-anchor="start" stroke="#1c1c1c" stroke-width="0.22">JZJ(C)H2500−24</text>
<text transform="translate(133.70 668.00) scale(0.89 1.0)" font-size="16.3" font-weight="400" fill="#1c1c1c" text-anchor="start" stroke="#1c1c1c" stroke-width="0.22">ZJP2500</text>
<text transform="translate(133.70 686.20) scale(0.89 1.0)" font-size="16.3" font-weight="400" fill="#1c1c1c" text-anchor="start" stroke="#1c1c1c" stroke-width="0.22">ZJ2500</text>
<text transform="translate(225.50 668.00) scale(0.89 1.0)" font-size="16.3" font-weight="400" fill="#1c1c1c" text-anchor="start" stroke="#1c1c1c" stroke-width="0.22">ZJP(C)1200</text>
<text transform="translate(225.50 686.20) scale(0.89 1.0)" font-size="16.3" font-weight="400" fill="#1c1c1c" text-anchor="start" stroke="#1c1c1c" stroke-width="0.22">ZJ(C)1200</text>
<text transform="translate(368.20 675.34)" font-size="16.3" font-weight="400" fill="#1c1c1c" text-anchor="middle" stroke="#1c1c1c" stroke-width="0.22">H300</text>
<text transform="translate(545.77 675.34)" font-size="16.3" font-weight="400" fill="#1c1c1c" text-anchor="middle" stroke="#1c1c1c" stroke-width="0.22">2500</text>
<text transform="translate(631.65 675.34)" font-size="16.3" font-weight="400" fill="#1c1c1c" text-anchor="middle" stroke="#1c1c1c" stroke-width="0.22">320</text>
<text transform="translate(715.10 675.34)" font-size="16.3" font-weight="400" fill="#1c1c1c" text-anchor="middle" stroke="#1c1c1c" stroke-width="0.22">100</text>
<text transform="translate(792.93 675.34)" font-size="16.3" font-weight="400" fill="#1c1c1c" text-anchor="middle" stroke="#1c1c1c" stroke-width="0.22">18.5</text>
<text transform="translate(863.62 675.34)" font-size="16.3" font-weight="400" fill="#1c1c1c" text-anchor="middle" stroke="#1c1c1c" stroke-width="0.22">11</text>
<text transform="translate(933.30 675.34)" font-size="16.3" font-weight="400" fill="#1c1c1c" text-anchor="middle" stroke="#1c1c1c" stroke-width="0.22">30</text>
<text transform="translate(439.30 455.50)" font-size="16.3" font-weight="400" fill="#1c1c1c" text-anchor="start" stroke="#1c1c1c" stroke-width="0.22">2x10<tspan font-size="8.5" font-weight="700" dy="-5.8">−2</tspan></text>
</svg>
</body>
</html>
